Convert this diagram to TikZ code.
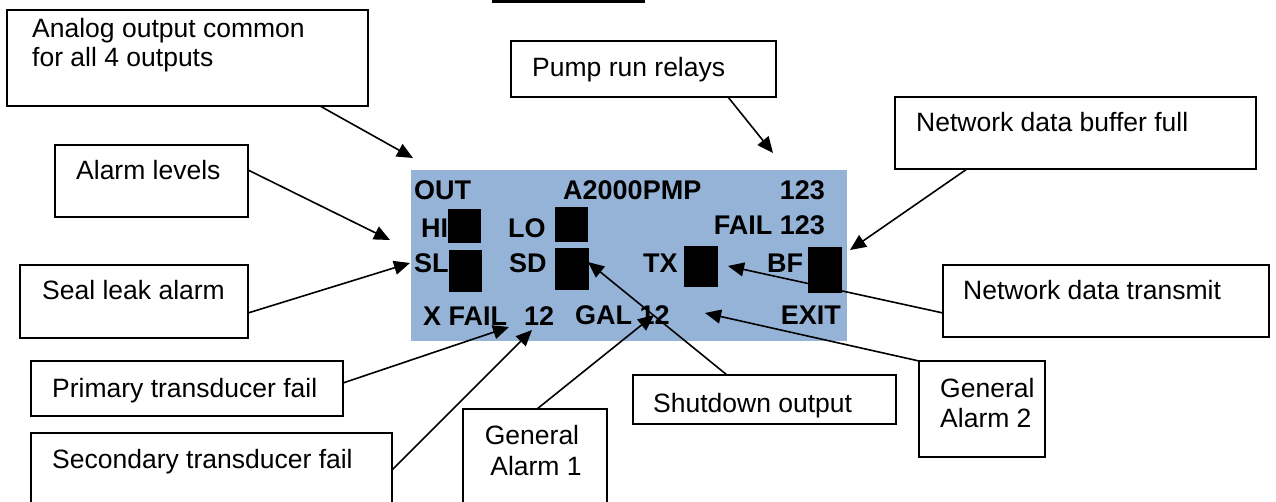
\documentclass[tikz,border=0pt]{standalone}
\usepackage{fontspec}
\setmainfont{Liberation Sans}
\usetikzlibrary{arrows.meta}
\definecolor{lcdblue}{HTML}{95B3D7}
\begin{document}
\begin{tikzpicture}[x=1pt,y=-1pt,
  box/.style={draw=black, line width=1.6pt, fill=white, rectangle, inner sep=0pt, outer sep=0pt, anchor=north west},
  lbl/.style={inner sep=0pt, anchor=base west, font=\fontsize{26.5}{30}\selectfont},
  lcd/.style={inner sep=0pt, anchor=base west, font=\bfseries\fontsize{27}{29}\selectfont},
  lcdr/.style={lcd, anchor=base east},
  sq/.style={fill=black, draw=none, inner sep=0pt, outer sep=0pt, anchor=north west},
  conn/.style={draw=black, line width=1.6pt, -{Triangle[length=16pt,width=14pt]}}
]
\useasboundingbox (0,0) rectangle (1276,502);
\fill[black] (492,0) rectangle (645,3);

% LCD panel
\node[fill=lcdblue, draw=none, inner sep=0pt, anchor=north west, minimum width=436pt, minimum height=171pt] (panel) at (411,170) {};

\node[lcd] (tOUT) at (414,200) {OUT};
\node[lcd] (tA2000) at (563,200) {A2000PMP};
\node[lcdr] (t123a) at (825,200) {123};
\node[lcd] (tHI) at (421,238) {HI};
\node[lcd] (tLO) at (508,238) {LO};
\node[lcdr] (tFAIL) at (825,235) {FAIL 123};
\node[lcd] (tSL) at (414,273) {SL};
\node[lcd] (tSD) at (509,273) {SD};
\node[lcd] (tTX) at (643,273) {TX};
\node[lcd] (tBF) at (767,273) {BF};
\node[lcd] (tXFAIL) at (423,326) {X FAIL};
\node[lcd] (t12) at (524,326) {12};
\node[lcd] (tGAL) at (575,325) {GAL 12};
\node[lcdr] (tEXIT) at (841,325) {EXIT};

\node[sq, minimum width=33pt, minimum height=34pt] (sqHI) at (448,209) {};
\node[sq, minimum width=33pt, minimum height=35pt] (sqLO) at (555,207) {};
\node[sq, minimum width=33pt, minimum height=42pt] (sqSL) at (449,250) {};
\node[sq, minimum width=34pt, minimum height=42pt] (sqSD) at (555,248) {};
\node[sq, minimum width=34pt, minimum height=41pt] (sqTX) at (684,246) {};
\node[sq, minimum width=34pt, minimum height=46pt] (sqBF) at (808,247) {};

% Callout boxes
\node[box, minimum width=361pt, minimum height=96pt] (ana) at (7,10) {};
\node[lbl] (anaT1) at (32,38) {Analog output common};
\node[lbl] (anaT2) at (32,67) {for all 4 outputs};

\node[box, minimum width=265pt, minimum height=56pt] (pump) at (511,41) {};
\node[lbl] (pumpT) at (532,77) {Pump run relays};

\node[box, minimum width=193pt, minimum height=72pt] (alarm) at (55,145) {};
\node[lbl] (alarmT) at (76,180) {Alarm levels};

\node[box, minimum width=228pt, minimum height=73pt] (seal) at (20,265) {};
\node[lbl] (sealT) at (42,300) {Seal leak alarm};

\node[box, minimum width=312pt, minimum height=55pt] (prim) at (31,361) {};
\node[lbl] (primT) at (52,397) {Primary transducer fail};

\node[box, minimum width=361pt, minimum height=90pt] (sec) at (31,433) {};
\node[lbl] (secT) at (52,468) {Secondary transducer fail};

\node[box, minimum width=144pt, minimum height=110pt] (ga1) at (463,409) {};
\node[lbl, anchor=base] (ga1T1) at (532,444) {General};
\node[lbl, anchor=base] (ga1T2) at (536,475) {Alarm 1};

\node[box, minimum width=263pt, minimum height=49pt] (shut) at (633,375) {};
\node[lbl] (shutT) at (653,412) {Shutdown output};

\node[box, minimum width=126pt, minimum height=96pt] (ga2) at (919,361) {};
\node[lbl] (ga2T1) at (940,397) {General};
\node[lbl] (ga2T2) at (940,427) {Alarm 2};

\node[box, minimum width=361pt, minimum height=72pt] (nbf) at (895,97) {};
\node[lbl] (nbfT) at (916,132) {Network data buffer full};

\node[box, minimum width=326pt, minimum height=72pt] (ntx) at (943,265) {};
\node[lbl] (ntxT) at (963,300) {Network data transmit};

% connector endpoints
\coordinate (anaS) at (320,106);   \coordinate (anaE) at (413,158);
\coordinate (pumpS) at (728,97);   \coordinate (pumpE) at (773,153);
\coordinate (alarmS) at (248,170); \coordinate (alarmE) at (390,240);
\coordinate (sealS) at (248,313);  \coordinate (sealE) at (410,263);
\coordinate (primS) at (343,383);  \coordinate (primE) at (509,327);
\coordinate (secS) at (392,470);   \coordinate (secE) at (532,330);
\coordinate (ga1S) at (537,409);   \coordinate (ga1E) at (654,315);
\coordinate (shutS) at (727,375);  \coordinate (shutE) at (588,262);
\coordinate (ga2S) at (919,361);   \coordinate (ga2E) at (705,313);
\coordinate (ntxS) at (943,313);   \coordinate (ntxE) at (728,266);
\coordinate (nbfS) at (967,169);   \coordinate (nbfE) at (850,250);

\draw[conn] (anaS) -- (anaE);
\draw[conn] (pumpS) -- (pumpE);
\draw[conn] (alarmS) -- (alarmE);
\draw[conn] (sealS) -- (sealE);
\draw[conn] (primS) -- (primE);
\draw[conn] (secS) -- (secE);
\draw[conn] (ga1S) -- (ga1E);
\draw[conn] (shutS) -- (shutE);
\draw[conn] (ga2S) -- (ga2E);
\draw[conn] (ntxS) -- (ntxE);
\draw[conn] (nbfS) -- (nbfE);
\end{tikzpicture}
\end{document}
